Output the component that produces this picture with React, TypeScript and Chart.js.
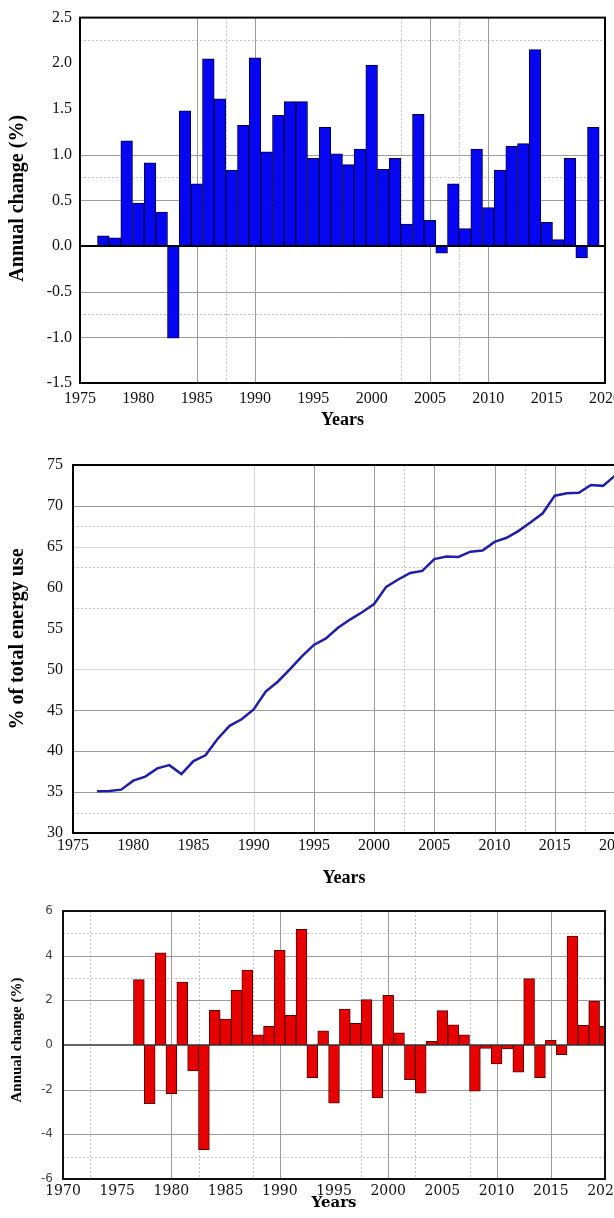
import React, { useEffect, useRef } from 'react';
import { Chart, registerables } from 'chart.js';

Chart.register(...registerables);

// ---- Panel 1: annual change (%) ----
const changeYearsA = [
  1977, 1978, 1979, 1980, 1981, 1982, 1983, 1984, 1985, 1986, 1987, 1988, 1989, 1990, 1991,
  1992, 1993, 1994, 1995, 1996, 1997, 1998, 1999, 2000, 2001, 2002, 2003, 2004, 2005, 2006,
  2007, 2008, 2009, 2010, 2011, 2012, 2013, 2014, 2015, 2016, 2017, 2018, 2019,
];
const changeValuesA = [
  0.11, 0.09, 1.15, 0.47, 0.91, 0.37, -1.01, 1.48, 0.68, 2.05, 1.61, 0.83, 1.32, 2.06, 1.03,
  1.43, 1.58, 1.58, 0.96, 1.3, 1.01, 0.89, 1.06, 1.98, 0.84, 0.96, 0.24, 1.44, 0.28, -0.08,
  0.68, 0.19, 1.06, 0.42, 0.83, 1.09, 1.12, 2.15, 0.26, 0.07, 0.96, -0.13, 1.3,
];
const yearTicksA = [1975, 1980, 1985, 1990, 1995, 2000, 2005, 2010, 2015, 2020];
const valueTicksA = [-1.5, -1.0, -0.5, 0.0, 0.5, 1.0, 1.5, 2.0, 2.5];

// ---- Panel 2: % of total energy use ----
const shareYears = [
  1977, 1978, 1979, 1980, 1981, 1982, 1983, 1984, 1985, 1986, 1987, 1988, 1989, 1990, 1991,
  1992, 1993, 1994, 1995, 1996, 1997, 1998, 1999, 2000, 2001, 2002, 2003, 2004, 2005, 2006,
  2007, 2008, 2009, 2010, 2011, 2012, 2013, 2014, 2015, 2016, 2017, 2018, 2019, 2020,
];
const shareValues = [
  35.1, 35.15, 35.3, 36.4, 36.9, 37.9, 38.3, 37.2, 38.8, 39.5, 41.5, 43.1, 43.9, 45.1, 47.3,
  48.5, 50.0, 51.6, 53.0, 53.8, 55.1, 56.1, 57.0, 58.0, 60.1, 61.0, 61.8, 62.05, 63.5, 63.8,
  63.75, 64.4, 64.55, 65.6, 66.1, 66.95, 68.0, 69.1, 71.25, 71.55, 71.6, 72.55, 72.45, 73.7,
];
const yearTicksB = [1975, 1980, 1985, 1990, 1995, 2000, 2005, 2010, 2015, 2020];
const shareTicks = [30, 35, 40, 45, 50, 55, 60, 65, 70, 75];

// ---- Panel 3: annual change (%) ----
const changeYearsC = [
  1977, 1978, 1979, 1980, 1981, 1982, 1983, 1984, 1985, 1986, 1987, 1988, 1989, 1990, 1991,
  1992, 1993, 1994, 1995, 1996, 1997, 1998, 1999, 2000, 2001, 2002, 2003, 2004, 2005, 2006,
  2007, 2008, 2009, 2010, 2011, 2012, 2013, 2014, 2015, 2016, 2017, 2018, 2019, 2020,
];
const changeValuesC = [
  2.93, -2.63, 4.13, -2.18, 2.82, -1.16, -4.69, 1.55, 1.16, 2.45, 3.36, 0.46, 0.84, 4.24, 1.33,
  5.18, -1.46, 0.64, -2.6, 1.61, 0.97, 2.03, -2.37, 2.22, 0.54, -1.55, -2.16, 0.16, 1.54, 0.9,
  0.46, -2.07, -0.15, -0.85, -0.18, -1.22, 2.97, -1.46, 0.21, -0.43, 4.88, 0.88, 1.97, 0.84,
];
const yearTicksC = [1970, 1975, 1980, 1985, 1990, 1995, 2000, 2005, 2010, 2015, 2020];
const valueTicksC = [-6, -4, -2, 0, 2, 4, 6];

const SERIF = '"Liberation Serif", "Times New Roman", serif';
const WIDE_SERIF = '"DejaVu Serif", serif';
const WIDE_SANS = '"DejaVu Sans", sans-serif';
const CANVAS_W = 660;

// Grid lines, zero line, plot frame and the vertical axis title.
const frameGrid = {
  id: 'frameGrid',
  beforeDatasetsDraw(chart: any, _args: any, opts: any) {
    const { ctx, chartArea: a, scales } = chart;
    const xs = scales.x;
    const ys = scales.y;
    ctx.save();
    ctx.beginPath();
    ctx.rect(a.left, a.top, a.right - a.left, a.bottom - a.top);
    ctx.clip();
    const vline = (v: number, color: string, dash: number[]) => {
      const px = Math.round(xs.getPixelForValue(v)) + 0.5;
      ctx.beginPath();
      ctx.setLineDash(dash);
      ctx.strokeStyle = color;
      ctx.lineWidth = 1;
      ctx.moveTo(px, a.top);
      ctx.lineTo(px, a.bottom);
      ctx.stroke();
    };
    const hline = (v: number, color: string, dash: number[]) => {
      const py = Math.round(ys.getPixelForValue(v)) + 0.5;
      ctx.beginPath();
      ctx.setLineDash(dash);
      ctx.strokeStyle = color;
      ctx.lineWidth = 1;
      ctx.moveTo(a.left, py);
      ctx.lineTo(a.right, py);
      ctx.stroke();
    };
    (opts.xDotted || []).forEach((v: number) => vline(v, '#c4c4c4', [2, 2]));
    (opts.yDotted || []).forEach((v: number) => hline(v, '#c4c4c4', [2, 2]));
    (opts.xFaint || []).forEach((v: number) => vline(v, '#d6d6d6', []));
    (opts.yFaint || []).forEach((v: number) => hline(v, '#d6d6d6', []));
    (opts.xSolid || []).forEach((v: number) => vline(v, '#9c9c9c', []));
    (opts.ySolid || []).forEach((v: number) => hline(v, '#9c9c9c', []));
    ctx.restore();
  },
  afterDatasetsDraw(chart: any, _args: any, opts: any) {
    const { ctx, chartArea: a, scales } = chart;
    ctx.save();
    ctx.setLineDash([]);
    if (opts.zeroColor) {
      const py = scales.y.getPixelForValue(0);
      ctx.beginPath();
      ctx.strokeStyle = opts.zeroColor;
      ctx.lineWidth = opts.zeroWidth;
      ctx.moveTo(a.left, py);
      ctx.lineTo(a.right, py);
      ctx.stroke();
    }
    ctx.strokeStyle = opts.frameColor;
    ctx.lineWidth = opts.frameWidth;
    ctx.strokeRect(a.left, a.top, a.right - a.left, a.bottom - a.top);

    // vertical axis title, rotated, centred on the plot with a small lift
    ctx.translate(opts.titleX, (a.top + a.bottom) / 2 - opts.titleLift);
    ctx.rotate(-Math.PI / 2);
    ctx.textAlign = 'center';
    ctx.textBaseline = 'middle';
    ctx.fillStyle = '#000';
    ctx.font = `bold ${opts.titleSize}px ${SERIF}`;
    ctx.fillText(opts.titleText, 0, 0);
    ctx.restore();
  },
};

function axisX(ticks: number[], min: number, max: number, height: number, tickFont: any, tickPad: number, titleFont: any, titlePad: number) {
  return {
    type: 'linear',
    min,
    max,
    offset: false,
    grid: { display: false, drawTicks: false, offset: false },
    border: { display: false },
    afterBuildTicks: (s: any) => {
      s.ticks = ticks.map((v) => ({ value: v }));
    },
    afterFit: (s: any) => {
      s.height = height;
    },
    ticks: {
      autoSkip: false,
      maxRotation: 0,
      padding: tickPad,
      color: '#111',
      font: tickFont,
      callback: (v: any) => String(v),
    },
    title: { display: true, text: 'Years', color: '#000', font: titleFont, padding: { top: 0, bottom: titlePad } },
  };
}

function axisY(ticks: number[], min: number, max: number, width: number, tickFont: any, tickPad: number, tickColor: string, fmt: (v: number) => string) {
  return {
    type: 'linear',
    min,
    max,
    grid: { display: false, drawTicks: false },
    border: { display: false },
    afterBuildTicks: (s: any) => {
      s.ticks = ticks.map((v) => ({ value: v }));
    },
    afterFit: (s: any) => {
      s.width = width;
    },
    ticks: { padding: tickPad, color: tickColor, font: tickFont, callback: (v: any) => fmt(Number(v)) },
    title: { display: false },
  };
}

const basePlugins = { legend: { display: false }, tooltip: { enabled: false } };

function configA(): any {
  return {
    type: 'bar',
    data: {
      datasets: [
        {
          data: changeYearsA.map((yr, i) => ({ x: yr, y: changeValuesA[i] })),
          backgroundColor: '#0606f2',
          borderColor: '#00003c',
          borderWidth: 1,
          barPercentage: 1,
          categoryPercentage: 1,
          clip: 0,
        },
      ],
    },
    options: {
      animation: false,
      responsive: false,
      devicePixelRatio: 1,
      layout: { padding: { left: 0, top: 15, right: CANVAS_W - 605, bottom: 0 } },
      plugins: {
        ...basePlugins,
        frameGrid: {
          xSolid: [1985, 1990, 2005, 2010],
          xDotted: [1987.5, 2002.5, 2007.5],
          ySolid: [1.0, 0.5, -0.5, -1.0],
          yDotted: [2.25, 0.75, -0.75],
          zeroColor: '#000',
          zeroWidth: 2,
          frameColor: '#000',
          frameWidth: 2,
          titleText: 'Annual change (%)',
          titleSize: 20,
          titleX: 18,
          titleLift: 2,
        },
      },
      scales: {
        x: axisX(yearTicksA, 1975, 2020, 57, { family: SERIF, size: 16 }, 6, { family: SERIF, size: 18, weight: 'bold' }, 9),
        y: axisY(valueTicksA, -1.5, 2.5, 80, { family: SERIF, size: 16 }, 8, '#111', (v) => v.toFixed(1)),
      },
    },
    plugins: [frameGrid],
  };
}

function configB(): any {
  return {
    type: 'line',
    data: {
      datasets: [
        {
          data: shareYears.map((yr, i) => ({ x: yr, y: shareValues[i] })),
          borderColor: '#1e1ea8',
          borderWidth: 2.5,
          pointRadius: 0,
          tension: 0,
          fill: false,
        },
      ],
    },
    options: {
      animation: false,
      responsive: false,
      devicePixelRatio: 1,
      layout: { padding: { left: 0, top: 25, right: CANVAS_W - 615, bottom: 0 } },
      plugins: {
        ...basePlugins,
        frameGrid: {
          xSolid: [1995, 2000, 2005, 2010, 2015],
          xFaint: [1990],
          xDotted: [2002.5, 2012.5, 2017.5],
          ySolid: [70, 45, 40, 35],
          yFaint: [65, 50],
          yDotted: [67.5, 62.5, 57.5, 32.5],
          zeroColor: null,
          frameColor: '#000',
          frameWidth: 2,
          titleText: '% of total energy use',
          titleSize: 20,
          titleX: 18,
          titleLift: 10,
        },
      },
      scales: {
        x: axisX(yearTicksB, 1975, 2020, 57, { family: SERIF, size: 16 }, 3, { family: SERIF, size: 18, weight: 'bold' }, 1),
        y: axisY(shareTicks, 30, 75, 73, { family: SERIF, size: 16 }, 10, '#111', (v) => String(v)),
      },
    },
    plugins: [frameGrid],
  };
}

function configC(): any {
  return {
    type: 'bar',
    data: {
      datasets: [
        {
          data: changeYearsC.map((yr, i) => ({ x: yr, y: changeValuesC[i] })),
          backgroundColor: '#e60000',
          borderColor: '#5a0000',
          borderWidth: 1,
          barPercentage: 1,
          categoryPercentage: 1,
          clip: 0,
        },
      ],
    },
    options: {
      animation: false,
      responsive: false,
      devicePixelRatio: 1,
      layout: { padding: { left: 0, top: 21, right: CANVAS_W - 605, bottom: 0 } },
      plugins: {
        ...basePlugins,
        frameGrid: {
          xSolid: [1980, 1990, 2000, 2010, 2015],
          xDotted: [1972.5, 1982.5, 1987.5, 1997.5, 2002.5, 2007.5],
          ySolid: [4, 2, -2, -4],
          yDotted: [5, 3, -5],
          zeroColor: '#333',
          zeroWidth: 1.5,
          frameColor: '#111',
          frameWidth: 2,
          titleText: 'Annual change (%)',
          titleSize: 15,
          titleX: 17,
          titleLift: 5,
        },
      },
      scales: {
        x: axisX(yearTicksC, 1970, 2020, 39, { family: WIDE_SERIF, size: 14 }, 4, { family: WIDE_SERIF, size: 15, weight: 'bold' }, 6),
        y: axisY(valueTicksC, -6, 6, 63, { family: WIDE_SANS, size: 12 }, 10, '#444', (v) => String(v)),
      },
    },
    plugins: [frameGrid],
  };
}

function Panel({ top, height, build }: { top: number; height: number; build: () => any }) {
  const ref = useRef<HTMLCanvasElement | null>(null);
  useEffect(() => {
    if (!ref.current) return;
    const chart = new Chart(ref.current, build());
    return () => chart.destroy();
  }, [build]);
  return (
    <div style={{ position: 'absolute', left: 0, top, width: CANVAS_W, height }}>
      <canvas ref={ref} width={CANVAS_W} height={height} style={{ display: 'block', width: CANVAS_W, height }} />
    </div>
  );
}

export default function App() {
  return (
    <div style={{ position: 'absolute', left: 0, top: 0, width: 614, height: 1218, overflow: 'hidden', background: '#fff' }}>
      <Panel top={0} height={440} build={configA} />
      <Panel top={440} height={450} build={configB} />
      <Panel top={890} height={328} build={configC} />
    </div>
  );
}
